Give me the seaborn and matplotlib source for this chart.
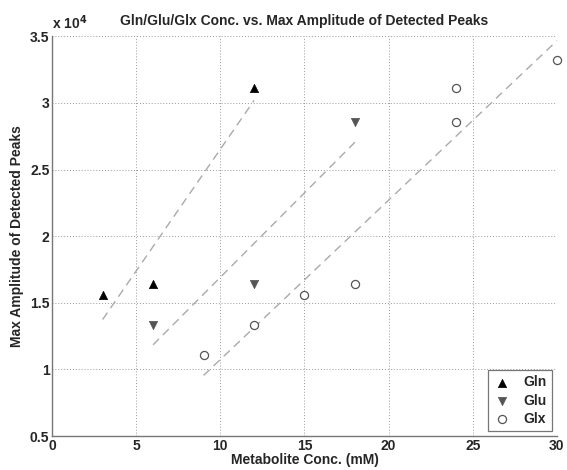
import numpy as np
import pandas as pd
import matplotlib
matplotlib.use("Agg")
import matplotlib.pyplot as plt
from matplotlib.ticker import FuncFormatter
import seaborn as sns

# concentrations (mM) and max amplitudes
gln_conc = [3, 6, 12]
gln_amp = [15600, 16450, 31100]
glu_conc = [6, 12, 18]
glu_amp = [13350, 16450, 28550]
glx_conc = [9, 12, 15, 18, 24, 24, 30]
glx_amp = [11050, 13350, 15600, 16450, 28550, 31100, 33250]

sns.set_style("white")
plt.rcParams['font.family'] = ['Liberation Sans', 'DejaVu Sans']
plt.rcParams['font.weight'] = 'bold'

fig = plt.figure(figsize=(5.67, 4.70), dpi=100)
ax = fig.add_axes([0.092, 0.072, 0.89, 0.851])

series = [
    ("Gln", gln_conc, gln_amp, dict(marker="^", color="black", edgecolor="black", s=36)),
    ("Glu", glu_conc, glu_amp, dict(marker="v", color="#555555", edgecolor="#555555", s=36)),
    ("Glx", glx_conc, glx_amp, dict(marker="o", facecolor="white", edgecolor="#555555", s=34, linewidth=0.9)),
]

for name, xs, ys, kw in series:
    df = pd.DataFrame({"x": xs, "y": ys})
    sns.scatterplot(data=df, x="x", y="y", ax=ax, label=name, zorder=3, clip_on=False, **kw)
    # least-squares fit over data range
    p = np.polyfit(xs, ys, 1)
    xx = np.array([min(xs), max(xs)])
    sns.lineplot(x=xx, y=np.polyval(p, xx), ax=ax, color="#aaaaaa",
                 linestyle=(0, (6, 4)), linewidth=1.0, zorder=2)

ax.set_xlim(0, 30)
ax.set_ylim(5000, 35000)
ax.set_xticks(range(0, 31, 5))
ax.set_yticks(np.arange(5000, 35001, 5000))
ax.yaxis.set_major_formatter(FuncFormatter(lambda v, _: "%g" % (v / 1e4)))
ax.grid(True, linestyle=(0, (1, 2)), color="#999999", linewidth=0.7)
for side in ["top", "right"]:
    ax.spines[side].set_visible(False)
for side in ["left", "bottom"]:
    ax.spines[side].set_color("#777777")
    ax.spines[side].set_linewidth(1.0)
ax.tick_params(direction="in", length=4, labelsize=10, color="#777777", pad=2)
for lab in ax.get_xticklabels() + ax.get_yticklabels():
    lab.set_fontweight("bold")

ax.text(0.0, 1.01, r"x 10$^{4}$", transform=ax.transAxes, fontsize=10,
        fontweight="bold", va="bottom", ha="left")
ax.set_title("Gln/Glu/Glx Conc. vs. Max Amplitude of Detected Peaks",
             fontsize=10, fontweight="bold", pad=8)
ax.set_xlabel("Metabolite Conc. (mM)", fontsize=10, fontweight="bold", labelpad=0)
ax.set_ylabel("Max Amplitude of Detected Peaks", fontsize=10, fontweight="bold", labelpad=4)

handles, labels = ax.get_legend_handles_labels()
leg = ax.legend(handles, labels, loc="lower right", frameon=True, fancybox=False,
                edgecolor="#555555", fontsize=10, handlelength=1.2, handletextpad=0.9,
                borderpad=0.4, labelspacing=0.3, borderaxespad=0.35)
leg.get_frame().set_linewidth(0.9)
for t in leg.get_texts():
    t.set_fontweight("bold")

fig.savefig("out.png", dpi=100)
